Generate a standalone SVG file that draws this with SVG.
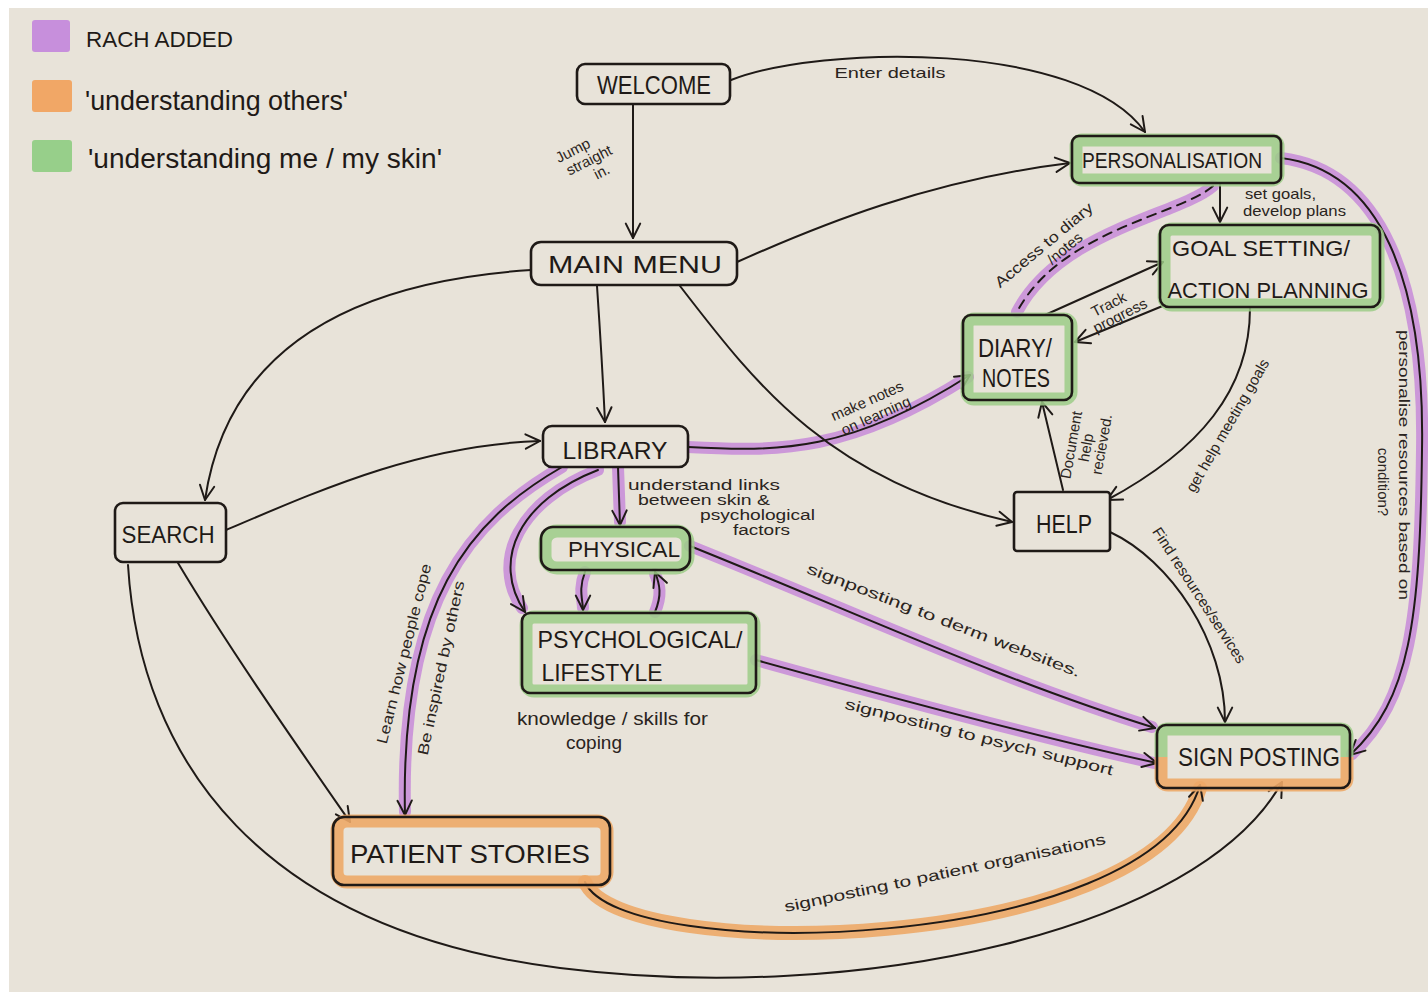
<svg xmlns="http://www.w3.org/2000/svg" width="1428" height="996" viewBox="0 0 1428 996">
  <defs>
    <marker id="arrow" viewBox="0 0 20 20" refX="18" refY="10" markerWidth="18" markerHeight="18" markerUnits="userSpaceOnUse" orient="auto">
      <path d="M2,2 L18,10 L2,18" fill="none" stroke="#1f1a17" stroke-width="2.2" stroke-linecap="round" stroke-linejoin="round"/>
    </marker>
    <style>
      .ink { fill: none; stroke: #1f1a17; stroke-width: 2; stroke-linecap: round; stroke-linejoin: round; }
      .arr { marker-end: url(#arrow); }
      .hl-purple { fill: none; stroke: #c98fd8; stroke-width: 12; stroke-linecap: round; opacity: 0.9; }
      .hl-orange { fill: none; stroke: #eda867; stroke-width: 14; stroke-linecap: round; opacity: 0.9; }
      .box { fill: none; stroke: #1f1a17; stroke-width: 2.6; }
      .band-green { fill: none; stroke: #9ccd87; stroke-width: 13; opacity: 0.85; }
      .band-orange { fill: none; stroke: #eda867; stroke-width: 13; opacity: 0.9; }
      .node-text { font-family: "Liberation Sans", "DejaVu Sans", sans-serif; fill: #1f1a17; text-anchor: middle; }
      .label { font-family: "Liberation Sans", "DejaVu Sans", sans-serif; fill: #2a2420; font-size: 15px; text-anchor: middle; }
      .label-start { font-family: "Liberation Sans", "DejaVu Sans", sans-serif; fill: #2a2420; text-anchor: start; }
      .legend-text { font-family: "Liberation Sans", "DejaVu Sans", sans-serif; fill: #1f1a17; }
    </style>
  </defs>

  <!-- sheet of paper on a white ground -->
  <rect x="0" y="0" width="1428" height="996" fill="#ffffff"/>
  <rect x="9" y="8" width="1419" height="984" fill="#e8e3d9"/>

  <!-- legend -->
  <g id="legend">
    <rect x="32" y="20" width="38" height="32" rx="3" fill="#c78fdc"/>
    <rect x="32" y="80" width="40" height="32" rx="3" fill="#f1a766"/>
    <rect x="32" y="140" width="40" height="32" rx="3" fill="#97cf8a"/>
    <text class="legend-text" x="86" y="47" font-size="22" textLength="147" lengthAdjust="spacingAndGlyphs">RACH ADDED</text>
    <text class="legend-text" x="85" y="110" font-size="28" textLength="263" lengthAdjust="spacingAndGlyphs">'understanding others'</text>
    <text class="legend-text" x="88" y="168" font-size="28" textLength="354" lengthAdjust="spacingAndGlyphs">'understanding me / my skin'</text>
  </g>

  <!-- connectors -->
  <g id="connectors">
    <!-- coloured highlighter strokes under the ink -->
    <path class="hl-purple" d="M562,467 C470,520 400,600 405,812"/>
    <path class="hl-purple" d="M598,470 C520,500 490,560 522,608"/>
    <path class="hl-purple" d="M618,467 L620,522"/>
    <path class="hl-purple" d="M688,447 C780,452 850,452 968,377"/>
    <path class="hl-purple" d="M585,572 C578,590 583,600 583,608"/>
    <path class="hl-purple" d="M655,612 C662,595 660,585 655,574"/>
    <path class="hl-purple" d="M690,546 C850,610 1000,680 1152,727"/>
    <path class="hl-purple" d="M756,660 C900,700 1050,740 1154,763"/>
    <path class="hl-purple" d="M1213,186 C1180,215 1060,230 1017,312"/>
    <path class="hl-purple" d="M1281,158 C1380,170 1425,280 1422,450 C1420,620 1410,700 1352,754"/>
    <path class="hl-orange" d="M585,882 C620,965 1150,955 1200,788"/>

    <!-- ink lines -->
    <path class="ink arr" d="M731,80 C820,45 1080,40 1145,132"/>
    <path class="ink arr" d="M633,104 L633,238"/>
    <path class="ink arr" d="M737,262 C820,225 930,180 1070,163"/>
    <path class="ink arr" d="M531,270 C380,280 230,330 205,500"/>
    <path class="ink arr" d="M597,286 C600,330 603,380 605,422"/>
    <path class="ink arr" d="M680,286 C760,390 830,480 1012,522"/>
    <path class="ink arr" d="M226,530 C320,490 420,445 540,441"/>
    <path class="ink arr" d="M178,563 C230,650 300,750 350,822"/>
    <path class="ink arr" d="M128,565 C140,760 260,930 560,968 S1200,930 1282,782"/>
    <path class="ink arr" d="M562,467 C470,520 400,600 405,815"/>
    <path class="ink arr" d="M598,470 C520,500 490,560 525,612"/>
    <path class="ink arr" d="M618,467 L620,525"/>
    <path class="ink arr" d="M688,447 C780,452 850,452 970,375"/>
    <path class="ink arr" d="M585,572 C578,590 583,600 583,610"/>
    <path class="ink arr" d="M655,612 C662,595 660,585 655,572"/>
    <path class="ink arr" d="M690,546 C850,610 1000,680 1155,728"/>
    <path class="ink arr" d="M756,660 C900,700 1050,740 1157,763"/>
    <path class="ink arr" d="M585,882 C620,965 1150,955 1200,785"/>
    <path class="ink arr" d="M1220,185 L1220,222"/>
    <path class="ink" stroke-dasharray="9 7" d="M1213,186 C1180,215 1060,230 1017,312"/>
    <path class="ink arr" d="M1045,315 L1163,262"/>
    <path class="ink arr" d="M1165,305 L1075,342"/>
    <path class="ink arr" d="M1250,308 C1250,390 1200,450 1107,500"/>
    <path class="ink arr" d="M1063,490 L1042,402"/>
    <path class="ink arr" d="M1110,532 C1170,560 1225,640 1225,722"/>
    <path class="ink arr" d="M1281,158 C1380,170 1425,280 1422,450 C1420,620 1410,700 1350,755"/>

    <!-- connector labels -->
    <text class="label" x="890" y="78" font-size="20" textLength="111" lengthAdjust="spacingAndGlyphs">Enter details</text>
    <g transform="translate(590,162) rotate(-27)">
      <text class="label" x="-10" y="-13" font-size="15">Jump</text>
      <text class="label" x="0" y="3" font-size="15">straight</text>
      <text class="label" x="6" y="19" font-size="15">in.</text>
    </g>
    <text class="label-start" x="1245" y="199" font-size="15" textLength="71" lengthAdjust="spacingAndGlyphs">set goals,</text>
    <text class="label-start" x="1243" y="216" font-size="15" textLength="103" lengthAdjust="spacingAndGlyphs">develop plans</text>
    <g transform="translate(1047,249) rotate(-40)">
      <text class="label" x="0" y="0" font-size="16" textLength="123" lengthAdjust="spacingAndGlyphs">Access to diary</text>
      <text class="label" x="14" y="16" font-size="16">/notes</text>
    </g>
    <g transform="translate(1116,312) rotate(-27)">
      <text class="label" x="-3" y="-5" font-size="15">Track</text>
      <text class="label" x="2" y="10" font-size="15">progress</text>
    </g>
    <g transform="translate(872,412) rotate(-24)">
      <text class="label" x="0" y="-7" font-size="17">make notes</text>
      <text class="label" x="2" y="10" font-size="17">on learning</text>
    </g>
    <text class="label-start" x="628" y="490" font-size="14" textLength="152" lengthAdjust="spacingAndGlyphs">understand links</text>
    <text class="label-start" x="638" y="505" font-size="14" textLength="132" lengthAdjust="spacingAndGlyphs">between skin &amp;</text>
    <text class="label-start" x="700" y="520" font-size="14" textLength="115" lengthAdjust="spacingAndGlyphs">psychological</text>
    <text class="label-start" x="733" y="535" font-size="14" textLength="57" lengthAdjust="spacingAndGlyphs">factors</text>
    <g transform="translate(1088,448) rotate(-80)">
      <text class="label" x="0" y="-12" font-size="14">Document</text>
      <text class="label" x="0" y="3" font-size="14">help</text>
      <text class="label" x="6" y="18" font-size="14">recieved.</text>
    </g>
    <text class="label" transform="translate(1232,428) rotate(-60)" font-size="16">get help meeting goals</text>
    <text class="label" transform="translate(1195,598) rotate(57)" font-size="16">Find resources/services</text>
    <g transform="translate(1399,465) rotate(90)">
      <text class="label" x="0" y="0" font-size="19" textLength="270" lengthAdjust="spacingAndGlyphs">personalise resources based on</text>
      <text class="label" x="17" y="21" font-size="19">condition?</text>
    </g>
    <text class="label" transform="translate(942,625) rotate(21)" font-size="21" textLength="292" lengthAdjust="spacingAndGlyphs">signposting to derm websites.</text>
    <text class="label" transform="translate(978,742) rotate(14)" font-size="21" textLength="276" lengthAdjust="spacingAndGlyphs">signposting to psych support</text>
    <text class="label-start" x="517" y="725" font-size="19" textLength="191" lengthAdjust="spacingAndGlyphs">knowledge / skills for</text>
    <text class="label-start" x="566" y="749" font-size="19">coping</text>
    <text class="label" transform="translate(946,878) rotate(-12)" font-size="19" textLength="328" lengthAdjust="spacingAndGlyphs">signposting to patient organisations</text>
    <text class="label" transform="translate(409,655) rotate(-76)" font-size="17" textLength="185" lengthAdjust="spacingAndGlyphs">Learn how people cope</text>
    <text class="label" transform="translate(446,669) rotate(-78)" font-size="17" textLength="178" lengthAdjust="spacingAndGlyphs">Be inspired by others</text>
  </g>

  <!-- nodes -->
  <g id="node-welcome">
    <rect class="box" x="577" y="64" width="153" height="40" rx="8" style="fill:#e8e3d9"/>
    <text class="node-text" x="654" y="94" font-size="26" textLength="114" lengthAdjust="spacingAndGlyphs">WELCOME</text>
  </g>

  <g id="node-main-menu">
    <rect class="box" x="531" y="242" width="206" height="43" rx="10" style="fill:#e8e3d9"/>
    <text class="node-text" x="635" y="273" font-size="24" textLength="174" lengthAdjust="spacingAndGlyphs">MAIN  MENU</text>
  </g>

  <g id="node-personalisation">
    <rect class="band-green" x="1076" y="140" width="202" height="40" rx="6"/>
    <rect class="box" x="1072" y="136" width="209" height="47" rx="7"/>
    <text class="node-text" x="1172" y="168" font-size="22" textLength="180" lengthAdjust="spacingAndGlyphs">PERSONALISATION</text>
  </g>

  <g id="node-goal-setting">
    <rect class="band-green" x="1164" y="229" width="214" height="76" rx="8"/>
    <rect class="box" x="1160" y="225" width="220" height="82" rx="9"/>
    <text class="node-text" x="1261" y="256" font-size="22" textLength="178" lengthAdjust="spacingAndGlyphs">GOAL SETTING/</text>
    <text class="node-text" x="1268" y="298" font-size="22" textLength="201" lengthAdjust="spacingAndGlyphs">ACTION PLANNING</text>
  </g>

  <g id="node-diary">
    <rect class="band-green" x="967" y="319" width="104" height="80" rx="7"/>
    <rect class="box" x="963" y="315" width="109" height="85" rx="8"/>
    <text class="node-text" x="1015" y="357" font-size="26" textLength="74" lengthAdjust="spacingAndGlyphs">DIARY/</text>
    <text class="node-text" x="1016" y="387" font-size="26" textLength="68" lengthAdjust="spacingAndGlyphs">NOTES</text>
  </g>

  <g id="node-library">
    <rect class="box" x="543" y="426" width="145" height="41" rx="9" style="fill:#e8e3d9"/>
    <text class="node-text" x="615" y="459" font-size="24" textLength="105" lengthAdjust="spacingAndGlyphs">LIBRARY</text>
  </g>

  <g id="node-search">
    <rect class="box" x="115" y="503" width="111" height="59" rx="8" style="fill:#e8e3d9"/>
    <text class="node-text" x="168" y="543" font-size="24" textLength="93" lengthAdjust="spacingAndGlyphs">SEARCH</text>
  </g>

  <g id="node-help">
    <rect class="box" x="1014" y="492" width="96" height="59" rx="3" style="fill:#e8e3d9"/>
    <text class="node-text" x="1064" y="533" font-size="26" textLength="56" lengthAdjust="spacingAndGlyphs">HELP</text>
  </g>

  <g id="node-physical">
    <rect class="band-green" x="545" y="531" width="143" height="37" rx="12"/>
    <rect class="box" x="541" y="527" width="149" height="43" rx="12"/>
    <text class="node-text" x="624" y="557" font-size="22" textLength="112" lengthAdjust="spacingAndGlyphs">PHYSICAL</text>
  </g>

  <g id="node-psychological">
    <rect class="band-green" x="526" y="617" width="228" height="74" rx="8"/>
    <rect class="box" x="522" y="613" width="234" height="80" rx="8"/>
    <text class="node-text" x="640" y="648" font-size="24" textLength="205" lengthAdjust="spacingAndGlyphs">PSYCHOLOGICAL/</text>
    <text class="node-text" x="602" y="681" font-size="24" textLength="121" lengthAdjust="spacingAndGlyphs">LIFESTYLE</text>
  </g>

  <g id="node-signposting">
    <path class="band-green" d="M1161,757 L1161,736 Q1161,729 1168,729 L1340,729 Q1347,729 1347,736 L1347,757"/>
    <path class="band-orange" d="M1161,757 L1161,778 Q1161,785 1168,785 L1340,785 Q1347,785 1347,778 L1347,757"/>
    <rect class="box" x="1157" y="725" width="193" height="63" rx="9"/>
    <text class="node-text" x="1259" y="766" font-size="26" textLength="162" lengthAdjust="spacingAndGlyphs">SIGN POSTING</text>
  </g>

  <g id="node-patient-stories">
    <rect class="band-orange" x="337" y="821" width="270" height="61" rx="10"/>
    <rect class="box" x="333" y="817" width="277" height="68" rx="11"/>
    <text class="node-text" x="470" y="863" font-size="26" textLength="240" lengthAdjust="spacingAndGlyphs">PATIENT  STORIES</text>
  </g>
</svg>
